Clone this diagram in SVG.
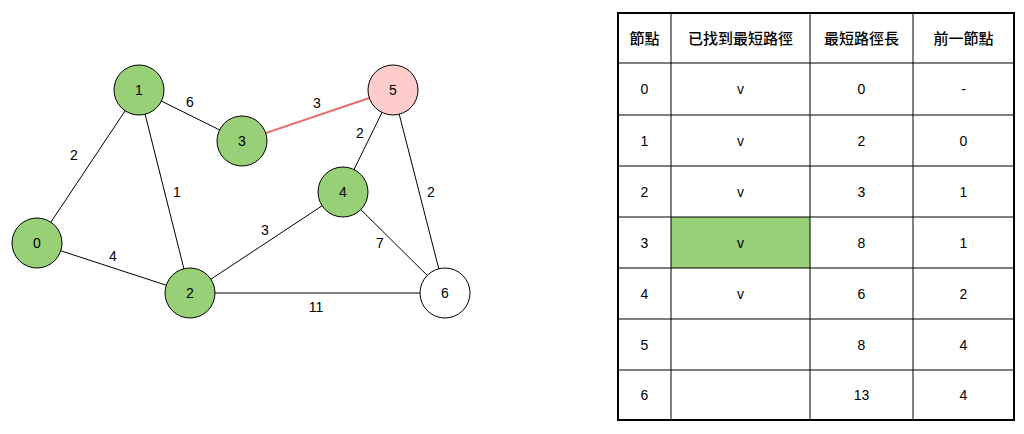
<svg xmlns="http://www.w3.org/2000/svg" width="1024" height="434" viewBox="0 0 1024 434">
<style>
text{font-family:"Liberation Sans","Noto Sans CJK TC",sans-serif;font-size:14px;fill:#000;text-anchor:middle;dominant-baseline:central}
.h{font-size:15px;font-weight:500}
.n{stroke:#000;stroke-width:1}
.g{fill:#97D077}
.e{stroke:#000;stroke-width:1;fill:none}
.grid{stroke:#000;stroke-width:1}
</style>
<rect width="1024" height="434" fill="#fff"/>
<g id="connectors">
<line class="e" x1="139" y1="90" x2="37" y2="243"/>
<line class="e" x1="139" y1="90" x2="242" y2="141"/>
<line class="e" x1="139" y1="90" x2="190" y2="293"/>
<line class="e" x1="37" y1="243" x2="190" y2="293"/>
<line class="e" x1="190" y1="293" x2="343" y2="192"/>
<line class="e" x1="190" y1="293" x2="445" y2="293"/>
<line class="e" x1="343" y1="192" x2="393" y2="90"/>
<line class="e" x1="343" y1="192" x2="445" y2="293"/>
<line class="e" x1="393" y1="90" x2="445" y2="293"/>
<line x1="242" y1="141" x2="393" y2="90" stroke="#EA6B66" stroke-width="2"/>
<text x="190" y="102">6</text>
<text x="317" y="103">3</text>
<text x="74" y="155">2</text>
<text x="177" y="192">1</text>
<text x="360" y="133">2</text>
<text x="431" y="192">2</text>
<text x="265" y="230">3</text>
<text x="380" y="243">7</text>
<text x="113" y="256">4</text>
<text x="316" y="307">11</text>
</g>
<g id="node0"><circle class="n g" cx="37" cy="243" r="25"/><text x="37" y="243">0</text></g>
<g id="node1"><circle class="n g" cx="139" cy="90" r="25"/><text x="139" y="90">1</text></g>
<g id="node2"><circle class="n g" cx="190" cy="293" r="25"/><text x="190" y="293">2</text></g>
<g id="node3"><circle class="n g" cx="242" cy="141" r="25"/><text x="242" y="141">3</text></g>
<g id="node4"><circle class="n g" cx="343" cy="192" r="25"/><text x="343" y="192">4</text></g>
<g id="node5"><circle class="n" cx="393" cy="90" r="25" fill="#FFCCCC"/><text x="393" y="90">5</text></g>
<g id="node6"><circle class="n" cx="445" cy="293" r="25" fill="#fff"/><text x="445" y="293">6</text></g>
<g id="table">
<rect x="671" y="217" width="139" height="51" fill="#97D077"/>
<line class="grid" x1="618" y1="63" x2="1014" y2="63"/>
<line class="grid" x1="618" y1="115" x2="1014" y2="115"/>
<line class="grid" x1="618" y1="166" x2="1014" y2="166"/>
<line class="grid" x1="618" y1="217" x2="1014" y2="217"/>
<line class="grid" x1="618" y1="268" x2="1014" y2="268"/>
<line class="grid" x1="618" y1="319" x2="1014" y2="319"/>
<line class="grid" x1="618" y1="370" x2="1014" y2="370"/>
<line class="grid" x1="671" y1="13" x2="671" y2="420"/>
<line class="grid" x1="810" y1="13" x2="810" y2="420"/>
<line class="grid" x1="913" y1="13" x2="913" y2="420"/>
<rect x="618" y="13" width="396" height="407" fill="none" stroke="#000" stroke-width="2"/>
<text class="h" x="644.5" y="38">節點</text><text class="h" x="740.5" y="38">已找到最短路徑</text><text class="h" x="861.5" y="38">最短路徑長</text><text class="h" x="963.5" y="38">前一節點</text>
<text x="644.5" y="89">0</text><text x="740.5" y="89">v</text><text x="861.5" y="89">0</text><text x="963.5" y="89">-</text>
<text x="644.5" y="140.5">1</text><text x="740.5" y="140.5">v</text><text x="861.5" y="140.5">2</text><text x="963.5" y="140.5">0</text>
<text x="644.5" y="191.5">2</text><text x="740.5" y="191.5">v</text><text x="861.5" y="191.5">3</text><text x="963.5" y="191.5">1</text>
<text x="644.5" y="242.5">3</text><text x="740.5" y="242.5">v</text><text x="861.5" y="242.5">8</text><text x="963.5" y="242.5">1</text>
<text x="644.5" y="293.5">4</text><text x="740.5" y="293.5">v</text><text x="861.5" y="293.5">6</text><text x="963.5" y="293.5">2</text>
<text x="644.5" y="344.5">5</text><text x="861.5" y="344.5">8</text><text x="963.5" y="344.5">4</text>
<text x="644.5" y="395">6</text><text x="861.5" y="395">13</text><text x="963.5" y="395">4</text>
</g>
</svg>
